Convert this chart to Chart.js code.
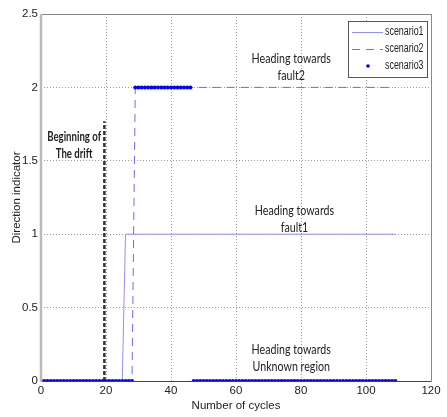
<!DOCTYPE html>
<html lang="en">
<head>
  <meta charset="UTF-8">
  <title>Direction indicator</title>
  <script src="https://cdn.jsdelivr.net/npm/chart.js"></script>
  <style>
    html, body { margin: 0; padding: 0; background: #fff; }
    #wrap { width: 447px; height: 417px; }
  </style>
</head>
<body>
  <div id="wrap"><canvas id="chart" width="447" height="417"></canvas></div>

  <script>
    // ticks
    const xTicks = [0, 20, 40, 60, 80, 100, 120];
    const yTicks = [0, 0.5, 1, 1.5, 2, 2.5];

    // scenario1 (solid) and scenario2 (dashed): step breakpoints
    const s1X = [0, 25, 26, 109];
    const s1Y = [0, 0, 1, 1];
    const s2X = [0, 28, 29, 109];
    const s2Y = [0, 0, 2, 2];

    // scenario3: one marker per cycle, cycles 0..109
    const s3Y = [
      0,0,0,0,0,0,0,0,0,0, 0,0,0,0,0,0,0,0,0,0, 0,0,0,0,0,0,0,0,0,
      2,2,2,2,2,2,2,2,2,2, 2,2,2,2,2,2,2,2,
      0,0,0,0,0,0,0,0,0,0, 0,0,0,0,0,0,0,0,0,0, 0,0,0,0,0,0,0,0,0,0,
      0,0,0,0,0,0,0,0,0,0, 0,0,0,0,0,0,0,0,0,0, 0,0,0,0,0,0,0,0,0,0, 0,0,0
    ];

    // drift start marker
    const driftX = 19.5;
    const driftTop = 1.77;

    // text notes: [x, y, lines, bold]
    const notes = [
      [77, 2.193, ["Heading towards", "fault2"], false],
      [78, 1.158, ["Heading towards", "fault1"], false],
      [77, 0.211, ["Heading towards", "Unknown region"], false],
      [10.2, 1.662, ["Beginning of", "The drift"], true]
    ];

    const legendItems = ["scenario1", "scenario2", "scenario3"];

    const tickFont = { family: "'Liberation Sans', Arial, sans-serif", size: 11.5 };
    const noteFont = "Lato, 'Open Sans', sans-serif";

    const xyPairs = (xs, ys) => xs.map((x, i) => ({ x: x, y: ys[i] }));

    const overlay = {
      id: 'overlay',
      afterDatasetsDraw(chart) {
        const ctx = chart.ctx;
        const a = chart.chartArea;
        const xs = chart.scales.x, ys = chart.scales.y;
        ctx.save();

        // frame
        ctx.lineWidth = 1;
        ctx.strokeStyle = '#888';
        ctx.beginPath();
        ctx.moveTo(a.left, a.top + 0.5); ctx.lineTo(a.right + 0.5, a.top + 0.5);
        ctx.lineTo(a.right + 0.5, a.bottom);
        ctx.stroke();
        ctx.strokeStyle = '#444';
        ctx.beginPath();
        ctx.moveTo(a.left, a.bottom + 0.5); ctx.lineTo(a.right + 0.5, a.bottom + 0.5);
        ctx.stroke();
        ctx.strokeStyle = '#bbb';
        ctx.lineWidth = 2.5;
        ctx.beginPath();
        ctx.moveTo(a.left, a.top); ctx.lineTo(a.left, a.bottom + 1);
        ctx.stroke();

        // notes
        ctx.fillStyle = '#222';
        ctx.textAlign = 'center';
        ctx.textBaseline = 'middle';
        notes.forEach(n => {
          ctx.font = (n[3] ? 'bold 13px ' : '13px ') + noteFont;
          const px = xs.getPixelForValue(n[0]);
          const py = ys.getPixelForValue(n[1]);
          n[2].forEach((t, i) => {
            ctx.save();
            ctx.translate(px, py + i * 17);
            ctx.scale(n[3] ? 0.74 : 0.82, 1);
            ctx.fillText(t, 0, 0);
            ctx.restore();
          });
        });

        // legend
        const lx = 348, ly = 21, lw = 79, lh = 56;
        ctx.fillStyle = '#fff';
        ctx.fillRect(lx, ly, lw, lh);
        ctx.lineWidth = 1;
        ctx.strokeStyle = '#555';
        ctx.strokeRect(lx + 0.5, ly + 0.5, lw, lh);
        ctx.textAlign = 'left';
        legendItems.forEach((t, i) => {
          const y = ly + 11 + i * 17;
          ctx.save();
          ctx.translate(lx + 37, y);
          ctx.scale(0.74, 1);
          ctx.font = "12px " + tickFont.family;
          ctx.fillStyle = '#222';
          ctx.fillText(t, 0, 0);
          ctx.restore();
          const ds = chart.data.datasets[i];
          if (i < 2) {
            ctx.strokeStyle = ds.borderColor;
            ctx.lineWidth = 1;
            ctx.setLineDash(ds.borderDash || []);
            ctx.beginPath();
            ctx.moveTo(lx + 4, y + 0.5); ctx.lineTo(lx + 35, y + 0.5);
            ctx.stroke();
            ctx.setLineDash([]);
          } else {
            ctx.fillStyle = ds.pointBackgroundColor;
            ctx.beginPath();
            ctx.arc(lx + 20, y, 1.8, 0, Math.PI * 2);
            ctx.fill();
          }
        });
        ctx.restore();
      }
    };

    new Chart(document.getElementById('chart').getContext('2d'), {
      type: 'scatter',
      data: {
        datasets: [
          {
            label: 'scenario1',
            data: xyPairs(s1X, s1Y),
            showLine: true,
            borderColor: '#8f8fff',
            borderWidth: 1,
            pointRadius: 0,
            order: 3
          },
          {
            label: 'scenario2',
            data: xyPairs(s2X, s2Y),
            showLine: true,
            borderColor: '#6a6aff',
            borderWidth: 1,
            borderDash: [8, 6],
            pointRadius: 0,
            order: 2
          },
          {
            label: 'scenario3',
            data: s3Y.map((y, i) => ({ x: i, y: y })),
            showLine: false,
            pointRadius: 2,
            pointBackgroundColor: '#0000ff',
            pointBorderWidth: 0,
            order: 1
          },
          {
            label: 'drift',
            data: [{ x: driftX, y: 0 }, { x: driftX, y: driftTop }],
            showLine: true,
            borderColor: '#333',
            borderWidth: 2.5,
            borderDash: [4, 2],
            pointRadius: 0,
            order: 4
          }
        ]
      },
      options: {
        responsive: false,
        animation: false,
        layout: { padding: { top: 14, right: 16, left: 0, bottom: 0 } },
        plugins: { legend: { display: false }, tooltip: { enabled: false } },
        scales: {
          x: {
            type: 'linear',
            min: 0, max: 120,
            afterBuildTicks: s => { s.ticks = xTicks.map(v => ({ value: v })); },
            afterFit: s => { s.height = 36; },
            grid: { color: '#999', lineWidth: 1, drawTicks: false },
            border: { display: false, dash: [1, 2] },
            ticks: { color: '#222', font: tickFont, padding: 3, maxRotation: 0, callback: v => String(v) },
            title: { display: true, text: 'Number of cycles', color: '#222', font: tickFont, padding: { top: 4 } }
          },
          y: {
            type: 'linear',
            min: 0, max: 2.5,
            afterBuildTicks: s => { s.ticks = yTicks.map(v => ({ value: v })); },
            afterFit: s => { s.width = 41; },
            grid: { color: '#999', lineWidth: 1, drawTicks: false },
            border: { display: false, dash: [1, 2] },
            ticks: { color: '#222', font: tickFont, padding: 3, callback: v => String(v) },
            title: { display: true, text: 'Direction indicator', color: '#222', font: tickFont, padding: { top: 10, bottom: 0 } }
          }
        }
      },
      plugins: [overlay]
    });
  </script>
</body>
</html>
